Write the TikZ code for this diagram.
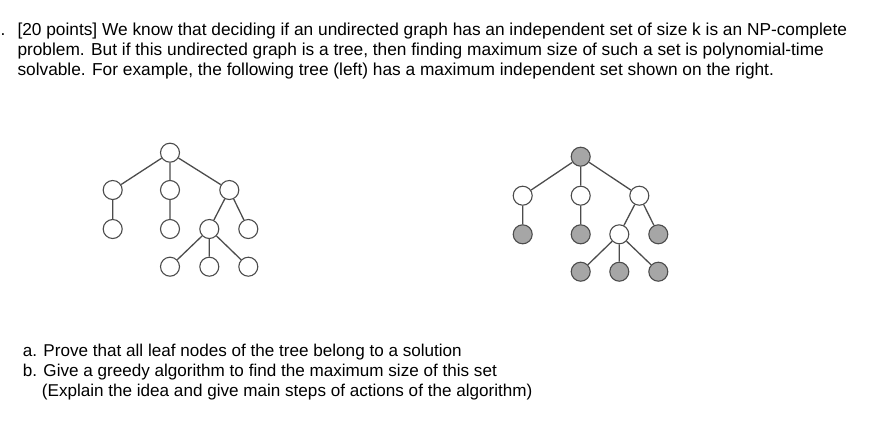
\documentclass[tikz,border=0pt]{standalone}
\usepackage{fontspec}
\setmainfont{Liberation Sans}
\begin{document}
\begin{tikzpicture}[x=1pt,y=-1pt,
  txt/.style={anchor=base west,inner sep=0pt,font=\fontsize{17.1}{20}\selectfont},
  toptxt/.style={txt,font=\fontsize{17.3}{20}\selectfont},
  vx/.style={circle,draw=black!70,line width=1.1pt,minimum size=19pt,inner sep=0pt,fill=white},
  on/.style={vx,fill=black!35},
  ed/.style={draw=black!70,line width=1.3pt}]
\useasboundingbox (0,0) rectangle (877,426);
% text
\node[toptxt] (p0) at (0.5,35.5) {.};
\node[toptxt] (t1) at (17.3,35.5) {[20 points] We know that deciding if an undirected graph has an independent set of size k is an NP-complete};
\node[toptxt] (t2) at (17.3,55.2) {problem. But if this undirected graph is a tree, then finding maximum size of such a set is polynomial-time};
\node[toptxt] (t3) at (17.3,75) {solvable. For example, the following tree (left) has a maximum independent set shown on the right.};
\node[txt] (b1) at (22.7,356) {a. Prove that all leaf nodes of the tree belong to a solution};
\node[txt] (b2) at (22.7,376) {b. Give a greedy algorithm to find the maximum size of this set};
\node[txt] (b3) at (41.7,396) {(Explain the idea and give main steps of actions of the algorithm)};
% left tree
\node[vx] (r) at (170,152.7) {};
\node[vx] (a) at (112.7,190) {};
\node[vx] (b) at (170,190) {};
\node[vx] (c) at (229.3,190) {};
\node[vx] (a1) at (112.7,229) {};
\node[vx] (b1n) at (170,229) {};
\node[vx] (c1) at (209.3,229) {};
\node[vx] (c2) at (248.3,229) {};
\node[vx] (d1) at (170,266.7) {};
\node[vx] (d2) at (209.3,266.7) {};
\node[vx] (d3) at (248.3,266.7) {};
\draw[ed] (r)--(a) (r)--(b) (r)--(c) (a)--(a1) (b)--(b1n) (c)--(c1) (c)--(c2) (c1)--(d1) (c1)--(d2) (c1)--(d3);
% right tree
\node[on] (R) at (580.7,156.7) {};
\node[vx] (A) at (522.7,195.7) {};
\node[vx] (B) at (580.7,195.7) {};
\node[vx] (C) at (639.3,195.7) {};
\node[on] (A1) at (522.7,234.3) {};
\node[on] (B1) at (580.7,234.3) {};
\node[vx] (C1) at (619.3,234.3) {};
\node[on] (C2) at (658.3,234.3) {};
\node[on] (D1) at (580.7,271.7) {};
\node[on] (D2) at (619.3,271.7) {};
\node[on] (D3) at (658.3,271.7) {};
\draw[ed] (R)--(A) (R)--(B) (R)--(C) (A)--(A1) (B)--(B1) (C)--(C1) (C)--(C2) (C1)--(D1) (C1)--(D2) (C1)--(D3);
\end{tikzpicture}
\end{document}
